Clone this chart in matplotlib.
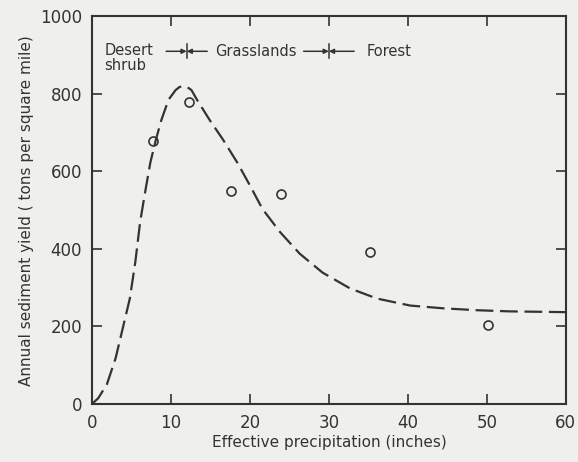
import matplotlib
matplotlib.use("Agg")
import matplotlib.pyplot as plt

# Observed data points (open circles)
obs_x = [7.7, 12.3, 17.6, 23.9, 35.2, 50.1]
obs_y = [679, 779, 550, 542, 391, 203]

# Dashed curve
curve_x = [0, 0.8, 1.9, 3.0, 3.9, 4.8, 5.5, 6.1, 6.8, 7.4, 8.1, 8.8, 9.7, 10.6,
           11.1, 11.6, 12.1, 12.6, 13.3, 14.9, 16.6, 18.4, 20.0, 21.6, 23.8,
           26.3, 29.2, 32.7, 36.1, 40.3, 44.4, 48.7, 52.9, 60]
curve_y = [0, 15, 51, 118, 195, 272, 367, 469, 554, 623, 682, 733, 785, 810,
           818, 820, 817, 810, 785, 733, 682, 623, 564, 503, 444,
           388, 339, 298, 272, 254, 247, 242, 239, 237]

# Vegetation zone labels and boundaries
zone_labels = ["Desert\nshrub", "Grasslands", "Forest"]
zone_label_x = [1.6, 15.6, 34.8]
boundary_x = [12, 30]
boundary_half = [2.6, 3.2]

x_ticks = [0, 10, 20, 30, 40, 50, 60]
y_ticks = [0, 200, 400, 600, 800, 1000]

ink = "#333333"
bg = "#efefed"

fig = plt.figure(figsize=(5.78, 4.62), dpi=100, facecolor=bg)
ax = fig.add_axes([0.159, 0.1255, 0.82, 0.839], facecolor=bg)

ax.plot(curve_x, curve_y, color=ink, lw=1.6, dashes=(8.0, 3.0),
        solid_capstyle="butt", dash_capstyle="butt")
ax.plot(obs_x, obs_y, linestyle="none", marker="o", ms=6.5, mfc="none",
        mec=ink, mew=1.2)

ax.set_xlim(0, 60)
ax.set_ylim(0, 1000)
ax.set_xticks(x_ticks)
ax.set_yticks(y_ticks)
ax.tick_params(direction="in", length=7, width=1.2, colors=ink, labelsize=12,
               top=True, right=True, pad=7)
for s in ax.spines.values():
    s.set_linewidth(1.5)
    s.set_color(ink)

ax.set_xlabel("Effective precipitation (inches)", fontsize=11, color=ink, labelpad=2)
ax.set_ylabel("Annual sediment yield ( tons per square mile)", fontsize=11,
              color=ink, labelpad=4)

# Zone legend across the top
label_y = 910
for lab, lx in zip(zone_labels, zone_label_x):
    if "\n" in lab:
        ax.text(lx, label_y + 22, lab, fontsize=10.5, color=ink, va="top",
                ha="left", linespacing=1.05)
    else:
        ax.text(lx, label_y, lab, fontsize=10.5, color=ink, va="center",
                ha="left")
for bx, bh in zip(boundary_x, boundary_half):
    for side in (-1, 1):
        ax.annotate("", xy=(bx, label_y), xytext=(bx + side * bh, label_y),
                    arrowprops=dict(arrowstyle="-|>", color=ink, lw=1.1,
                                    mutation_scale=7, shrinkA=0, shrinkB=0))
    ax.plot([bx, bx], [label_y - 18, label_y + 18], color=ink, lw=1.1)

fig.savefig("out.png", dpi=100, facecolor=bg)
